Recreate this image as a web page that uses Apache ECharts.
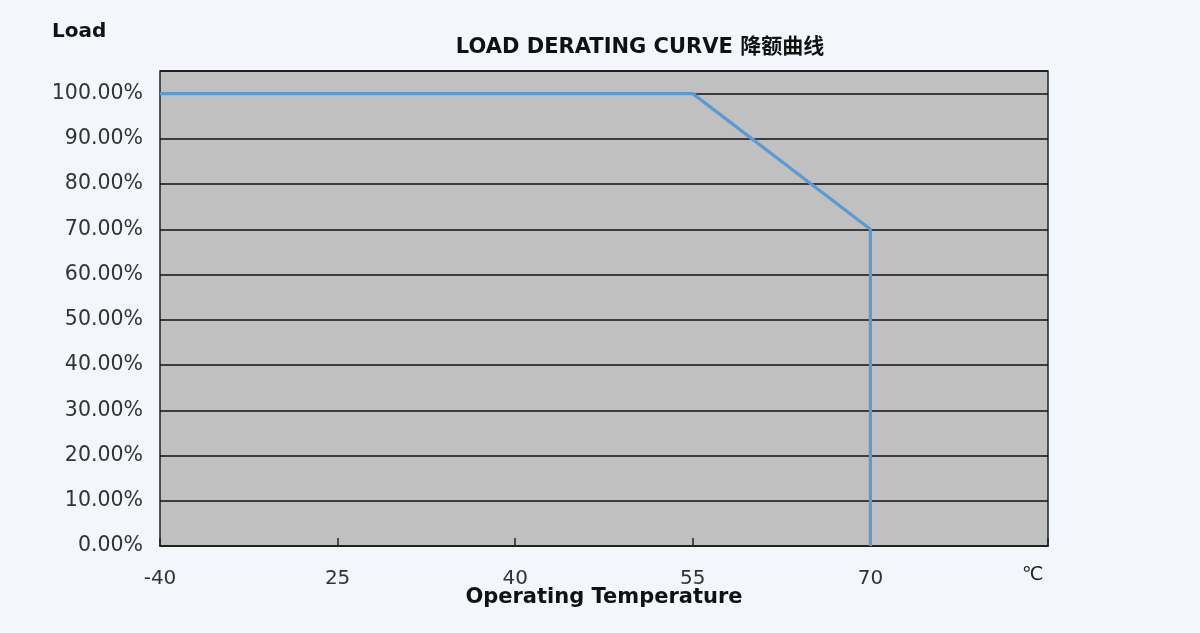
<!DOCTYPE html>
<html>
<head>
<meta charset="utf-8">
<script src="https://cdn.jsdelivr.net/npm/echarts@6/dist/echarts.min.js"></script>
<style>
html,body{margin:0;padding:0;background:#ffffff;}
#c{width:1200px;height:633px;}
</style>
</head>
<body>
<div id="c"></div>
<script>
// Data
const tempLabels = ['-40', '25', '40', '55', '70', ''];
const curveX = [0, 3, 4, 4];          // index into tempLabels
const curveLoad = [100, 100, 70, 0];  // percent
const loadTicks = [0, 10, 20, 30, 40, 50, 60, 70, 80, 90, 100];

const chart = echarts.init(document.getElementById('c'));
const font = '"DejaVu Sans", "Noto Sans CJK SC", sans-serif';
chart.setOption({
  backgroundColor: '#f3f6fa',
  animation: false,
  title: {
    text: 'LOAD DERATING CURVE 降额曲线',
    left: 635, top: 32, textAlign: 'center',
    textStyle: { fontFamily: font, fontSize: 21, fontWeight: 'bold', color: '#111' }
  },
  graphic: [
    { type: 'text', left: 52, top: 22, style: { text: 'Load', font: 'bold 20px ' + font, fill: '#111' } },
    { type: 'text', left: 1022, top: 566, style: { text: '℃', font: '19px ' + font, fill: '#222' } }
  ],
  grid: { left: 160, right: 152, top: 71, bottom: 87, show: true, backgroundColor: '#c0c0c0', borderColor: '#222', borderWidth: 1.5 },
  xAxis: {
    type: 'value', min: 0, max: 5, interval: 1,
    name: 'Operating Temperature', nameLocation: 'middle', nameGap: 41, nameMoveOverlap: false,
    nameTextStyle: { fontFamily: font, fontSize: 21, fontWeight: 'bold', color: '#111' },
    axisLine: { show: true, lineStyle: { color: '#222', width: 1.5 } },
    axisTick: { show: true, inside: true, length: 8, lineStyle: { color: '#222', width: 1.5 } },
    splitLine: { show: false },
    axisLabel: { margin: 23, fontFamily: font, fontSize: 20, color: '#333', formatter: v => tempLabels[Math.round(v)] }
  },
  yAxis: {
    type: 'value', min: 0, max: 105, interval: 10,
    axisLine: { show: false },
    axisTick: { show: false },
    splitLine: { show: true, lineStyle: { color: '#111', width: 1.5 } },
    axisLabel: { margin: 17, fontFamily: font, fontSize: 20.5, color: '#333',
      formatter: v => loadTicks.indexOf(v) >= 0 ? v.toFixed(2) + '%' : '' }
  },
  series: [{
    type: 'line',
    data: curveX.map((x, i) => [x, curveLoad[i]]),
    showSymbol: false,
    lineStyle: { color: '#5b9bd5', width: 3.2 },
    itemStyle: { color: '#5b9bd5' }
  }]
});
</script>
</body>
</html>
